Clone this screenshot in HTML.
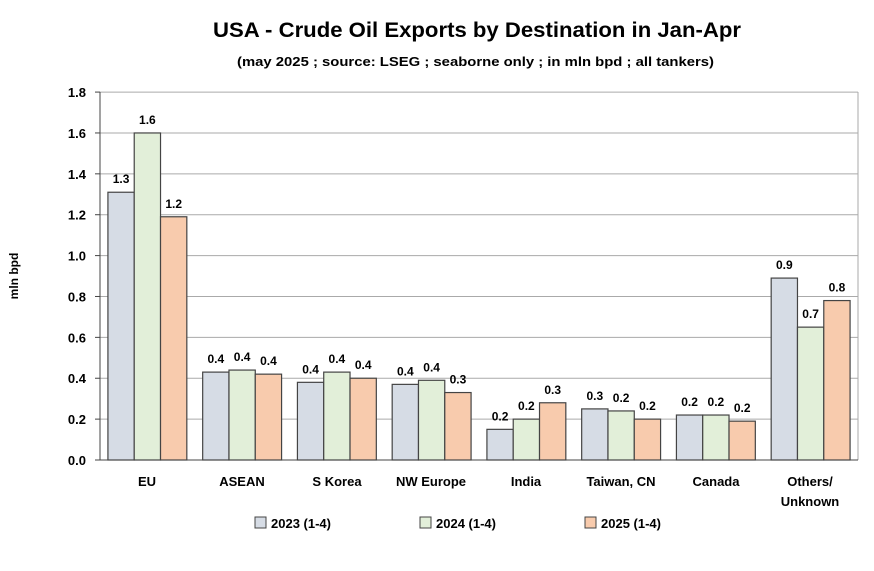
<!DOCTYPE html>
<html><head><style>body{margin:0;background:#fff}svg{display:block}text{font-family:"Liberation Sans",sans-serif;font-weight:bold;fill:#000}</style></head><body>
<svg width="874" height="571" viewBox="0 0 874 571">
<text x="213" y="37" font-size="21" textLength="528" lengthAdjust="spacingAndGlyphs">USA - Crude Oil Exports by Destination in Jan-Apr</text>
<text x="237" y="66" font-size="13" textLength="477" lengthAdjust="spacingAndGlyphs">(may 2025 ; source: LSEG ; seaborne only ; in mln bpd ; all tankers)</text>
<text transform="translate(18,276) rotate(-90)" font-size="12" text-anchor="middle">mln bpd</text>
<g id="g"></g>
<g font-size="13" text-anchor="middle">
<text x="147" y="486">EU</text><text x="242" y="486">ASEAN</text><text x="337" y="486">S Korea</text><text x="431" y="486">NW Europe</text><text x="526" y="486">India</text><text x="621" y="486">Taiwan, CN</text><text x="716" y="486">Canada</text><text x="810" y="486">Others/</text><text x="810" y="506">Unknown</text>
</g>
<g font-size="13">
<rect x="255" y="517" width="11" height="11" fill="#d6dce5" stroke="#444"/><text x="271" y="528">2023 (1-4)</text>
<rect x="420" y="517" width="11" height="11" fill="#e2efd9" stroke="#444"/><text x="436" y="528">2024 (1-4)</text>
<rect x="585" y="517" width="11" height="11" fill="#f8cbad" stroke="#444"/><text x="601" y="528">2025 (1-4)</text>
</g>
</svg>
<script>
var g=document.getElementById('g'),s='';
var y0=460,k=204.4;
for(var i=0;i<=9;i++){var v=i*0.2,y=y0-v*k;s+='<line x1="100" x2="858" y1="'+y+'" y2="'+y+'" stroke="'+(i?'#aaa':'#444')+'"/>';s+='<line x1="95" x2="100" y1="'+y+'" y2="'+y+'" stroke="#444"/>';s+='<text x="86" y="'+(y+5)+'" font-size="13" text-anchor="end">'+v.toFixed(1)+'</text>';}
s+='<line x1="858" x2="858" y1="92" y2="460" stroke="#aaa"/><line x1="100" x2="100" y1="92" y2="460" stroke="#444"/>';
var d=[[1.31,1.60,1.19],[.43,.44,.42],[.38,.43,.40],[.37,.39,.33],[.15,.20,.28],[.25,.24,.20],[.22,.22,.19],[.89,.65,.78]];
var L=[[1.3,1.6,1.2],[.4,.4,.4],[.4,.4,.4],[.4,.4,.3],[.2,.2,.3],[.3,.2,.2],[.2,.2,.2],[.9,.7,.8]];
var c=['#d6dce5','#e2efd9','#f8cbad'],gw=758/8,bw=26.3;
for(var j=0;j<8;j++){for(var m=0;m<3;m++){var x=100+gw*j+gw/2-bw*1.5+bw*m,h=d[j][m]*k,y=y0-h;
s+='<rect x="'+x+'" y="'+y+'" width="'+bw+'" height="'+h+'" fill="'+c[m]+'" stroke="#444" stroke-width="1.2"/>';
s+='<text x="'+(x+bw/2)+'" y="'+(y-9)+'" font-size="12" text-anchor="middle">'+L[j][m].toFixed(1)+'</text>';}}
s+='<line x1="100" x2="858" y1="460" y2="460" stroke="#444"/>';
g.innerHTML=s;
</script>
</body></html>
